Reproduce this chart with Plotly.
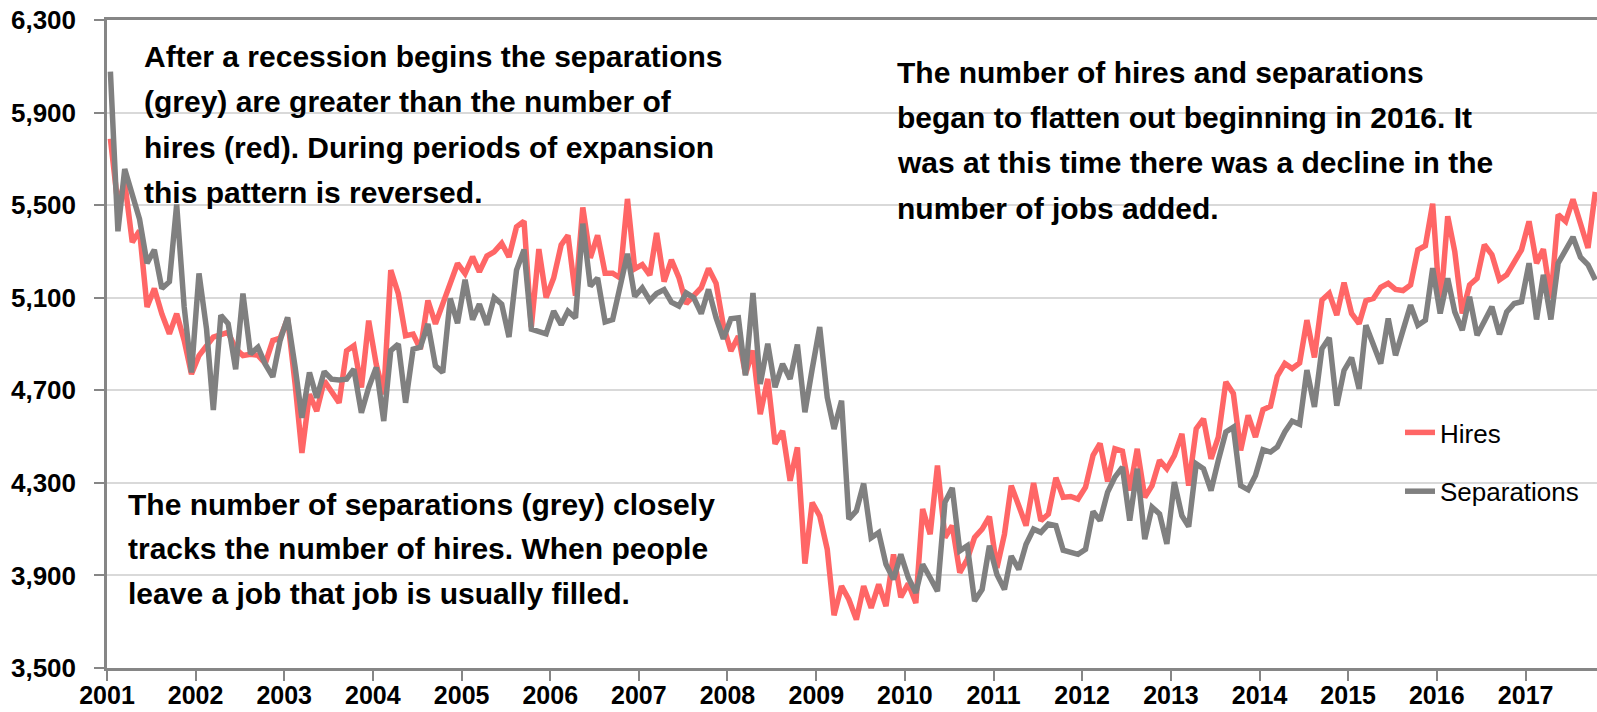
import pandas as pd
import plotly.graph_objects as go

# Monthly JOLTS-style data, Jan 2001 - Oct 2017 (thousands)
hires = [
    5787, 5500, 5600, 5340, 5390, 5060, 5140, 5030, 4944, 5031, 4915, 4770,  # 2001
    4850, 4893, 4930, 4940, 4950, 4880, 4850, 4856, 4851, 4816, 4915, 4925,  # 2002
    5010, 4726, 4429, 4683, 4610, 4741, 4697, 4646, 4871, 4893, 4712, 5001,  # 2003
    4813, 4683, 5219, 5117, 4936, 4943, 4878, 5088, 4987, 5074, 5161, 5248,  # 2004
    5204, 5277, 5212, 5280, 5298, 5335, 5276, 5406, 5431, 4973, 5310, 5101,  # 2005
    5185, 5328, 5370, 5109, 5490, 5272, 5370, 5206, 5206, 5186, 5527, 5225,  # 2006
    5243, 5198, 5380, 5170, 5264, 5187, 5074, 5105, 5143, 5226, 5162, 4980,  # 2007
    4870, 4934, 4770, 4872, 4597, 4749, 4468, 4525, 4309, 4453, 3951, 4215,  # 2008
    4157, 4013, 3728, 3854, 3796, 3709, 3854, 3760, 3861, 3767, 3991, 3806,  # 2009
    3865, 3781, 4187, 4078, 4375, 4064, 4115, 3912, 3970, 4064, 4100, 4154,  # 2010
    3933, 4078, 4288, 4201, 4115, 4299, 4136, 4165, 4322, 4238, 4241, 4230,  # 2011
    4281, 4419, 4470, 4306, 4447, 4437, 4267, 4447, 4238, 4288, 4397, 4361,  # 2012
    4418, 4512, 4288, 4534, 4577, 4404, 4498, 4736, 4686, 4440, 4592, 4498,  # 2013
    4616, 4631, 4761, 4816, 4794, 4818, 5003, 4842, 5090, 5119, 5025, 5165,  # 2014
    5032, 4988, 5087, 5097, 5145, 5162, 5136, 5131, 5155, 5307, 5325, 5506,  # 2015
    5045, 5452, 5300, 5032, 5155, 5184, 5329, 5286, 5177, 5199, 5257, 5307,  # 2016
    5430, 5249, 5310, 5097, 5459, 5430, 5525, 5420, 5315, 5557,              # 2017
]

separations = [
    6077, 5387, 5656, 5540, 5440, 5249, 5307, 5140, 5169, 5503, 5060, 4777,  # 2001
    5205, 4965, 4615, 5024, 4988, 4791, 5118, 4857, 4886, 4813, 4758, 4915,  # 2002
    5015, 4800, 4581, 4777, 4668, 4781, 4748, 4744, 4748, 4791, 4603, 4712,  # 2003
    4799, 4567, 4871, 4900, 4646, 4878, 4886, 4987, 4806, 4777, 5096, 4990,  # 2004
    5178, 5005, 5072, 4983, 5101, 5072, 4930, 5219, 5308, 4964, 4954, 4944,  # 2005
    5042, 4983, 5042, 5013, 5420, 5150, 5185, 4995, 5005, 5150, 5290, 5105,  # 2006
    5142, 5088, 5118, 5135, 5081, 5064, 5121, 5100, 5031, 5136, 5014, 4922,  # 2007
    5009, 5013, 4764, 5120, 4727, 4901, 4713, 4814, 4749, 4898, 4605, 4792,  # 2008
    4973, 4670, 4533, 4655, 4143, 4179, 4297, 4063, 4085, 3948, 3883, 3991,  # 2009
    3890, 3825, 3948, 3890, 3832, 4216, 4278, 4006, 4028, 3789, 3839, 4028,  # 2010
    3904, 3839, 3984, 3926, 4035, 4100, 4086, 4122, 4115, 4009, 3999, 3991,  # 2011
    4013, 4176, 4137, 4260, 4325, 4368, 4137, 4361, 4057, 4195, 4166, 4036,  # 2012
    4303, 4158, 4111, 4382, 4361, 4267, 4397, 4520, 4541, 4288, 4270, 4332,  # 2013
    4443, 4433, 4455, 4520, 4567, 4553, 4787, 4628, 4880, 4927, 4633, 4786,  # 2014
    4841, 4706, 4981, 4902, 4815, 5010, 4851, 4960, 5068, 4981, 5003, 5228,  # 2015
    5032, 5184, 5039, 4960, 5104, 4938, 5003, 5061, 4942, 5039, 5075, 5083,  # 2016
    5249, 5006, 5199, 5006, 5249, 5307, 5362, 5275, 5242, 5177,              # 2017
]

series_names = ["Hires", "Separations"]
series_colors = ["#FF6666", "#808080"]

start_month = "2001-01-01"
months = pd.date_range(start=start_month, periods=len(hires), freq="MS") + pd.Timedelta(days=14)

y_min, y_max, y_step = 3500, 6300, 400

notes_top_left = [
    "After a recession begins the separations",
    "(grey) are greater than the number of",
    "hires (red). During periods of expansion",
    "this pattern is reversed.",
]
notes_bottom_left = [
    "The number of separations (grey) closely",
    "tracks the number of hires. When people",
    "leave a job that job is usually filled.",
]
notes_top_right = [
    "The number of hires and separations",
    "began to flatten out beginning in 2016. It",
    "was at this time there was a decline in the",
    "number of jobs added.",
]

# ---- layout geometry (pixels) ----
W, H = 1597, 712
ML, MR, MT, MB = 107, 0, 20, 44
PW, PH = W - ML - MR, H - MT - MB


def px_x(px):
    return (px - ML) / PW


def px_y(py):
    return (H - MB - py) / PH


SANS = "Liberation Sans, Arial, sans-serif"

fig = go.Figure()
for name, vals, col in zip(series_names, [hires, separations], series_colors):
    fig.add_trace(go.Scatter(
        x=months, y=vals, mode="lines", name=name, legendgroup=name,
        line=dict(color=col, width=5.5),
    ))

annotations = []


def add_block(lines, left_px, first_center_px, spacing):
    for i, t in enumerate(lines):
        annotations.append(dict(
            text=t, xref="paper", yref="paper",
            x=px_x(left_px), y=px_y(first_center_px + i * spacing),
            xanchor="left", yanchor="middle", showarrow=False,
            font=dict(family=SANS, size=30, color="black", weight="bold"),
        ))


add_block(notes_top_left, 142, 56.5, 45.3)
add_block(notes_bottom_left, 126, 504, 44.8)
add_block(notes_top_right, 895, 72.5, 45.2)

axis_grey = "#868686"
fig.update_layout(
    width=W, height=H,
    margin=dict(l=ML, r=MR, t=MT, b=MB, pad=0, autoexpand=False),
    paper_bgcolor="white", plot_bgcolor="white",
    annotations=annotations,
    showlegend=True,
    legend=dict(
        x=px_x(1400), xanchor="left", y=px_y(409), yanchor="top",
        font=dict(family=SANS, size=26, color="black"),
        bgcolor="rgba(0,0,0,0)", tracegroupgap=22,
    ),
    xaxis=dict(
        type="date", range=["2001-01-01", "2017-10-22"],
        tick0="2001-01-01", dtick="M12", tickformat="%Y",
        showgrid=False, zeroline=False,
        showline=True, linecolor=axis_grey, linewidth=2.5, mirror=True,
        ticks="outside", ticklen=10, tickwidth=2, tickcolor=axis_grey,
        ticklabelstandoff=-7,
        tickfont=dict(family=SANS, size=25, color="black", weight="bold"),
    ),
    yaxis=dict(
        range=[y_min, y_max], tick0=y_min, dtick=y_step, tickformat=",d",
        showgrid=True, gridcolor="#d9d9d9", gridwidth=2, zeroline=False,
        showline=True, linecolor=axis_grey, linewidth=2.5,
        ticks="outside", ticklen=10, tickwidth=2, tickcolor=axis_grey,
        ticklabelstandoff=13,
        tickfont=dict(family=SANS, size=26, color="black", weight="bold"),
    ),
)

fig.write_html(
    "out.html",
    config={"displayModeBar": False},
    post_script="document.body.style.margin='0';document.body.style.overflow='hidden';",
)
